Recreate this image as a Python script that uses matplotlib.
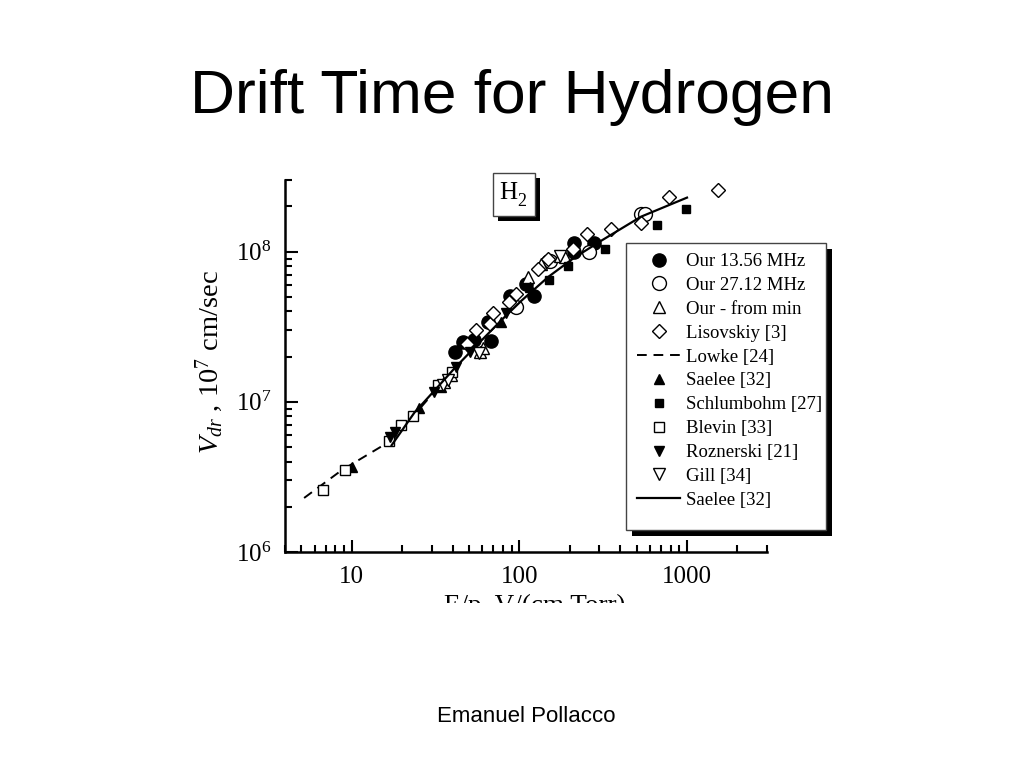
import matplotlib
matplotlib.use("Agg")
import matplotlib.pyplot as plt
from matplotlib.patches import Rectangle

plt.rcParams['font.family'] = ['Liberation Serif', 'DejaVu Serif']
plt.rcParams['mathtext.fontset'] = 'custom'
plt.rcParams['mathtext.rm'] = 'Liberation Serif'
plt.rcParams['mathtext.it'] = 'Liberation Serif:italic'

# E/p in V/(cm Torr), drift velocity in cm/sec
our1356_x = [41.2, 46.2, 54, 65.1, 67.5, 87.5, 110, 123, 148, 213, 213, 279]
our1356_y = [2.14e7, 2.50e7, 2.60e7, 3.39e7, 2.56e7, 5.1e7, 6.1e7, 5.1e7, 8.7e7, 1.15e8, 9.9e7, 1.15e8]

our2712_x = [96, 152, 261, 532, 560]
our2712_y = [4.27e7, 8.6e7, 9.9e7, 1.78e8, 1.78e8]

ourmin_x = [35.6, 39, 58, 61, 112, 135, 174, 186]
ourmin_y = [1.36e7, 1.5e7, 2.14e7, 2.27e7, 6.8e7, 8.3e7, 9.4e7, 9.2e7]

lisov_x = [48.9, 55.4, 66.6, 70, 87, 96, 130, 148, 209, 254, 350, 532, 785, 1535]
lisov_y = [2.44e7, 3.0e7, 3.31e7, 3.9e7, 4.65e7, 5.2e7, 7.67e7, 8.9e7, 1.04e8, 1.32e8, 1.41e8, 1.54e8, 2.32e8, 2.57e8]

lowke_x = [5.2, 8.7, 15.1, 22.8, 32, 40]
lowke_y = [2.29e6, 3.5e6, 5.06e6, 7.8e6, 1.21e7, 1.6e7]

saelee_pts_x = [10.1, 25.2, 34, 78, 115]
saelee_pts_y = [3.7e6, 9.1e6, 1.25e7, 3.4e7, 5.8e7]

schlum_x = [151, 194, 322, 659, 985]
schlum_y = [6.5e7, 8.0e7, 1.04e8, 1.5e8, 1.92e8]

blevin_x = [6.7, 9.1, 16.7, 19.8, 23.3, 32.8, 39.4]
blevin_y = [2.6e6, 3.5e6, 5.5e6, 7.0e6, 8.0e6, 1.29e7, 1.57e7]

rozn_x = [16.9, 18.1, 30.9, 42, 50.6, 83]
rozn_y = [5.8e6, 6.3e6, 1.16e7, 1.7e7, 2.14e7, 3.9e7]

gill_x = [35, 37.6, 57.4, 174]
gill_y = [1.3e7, 1.4e7, 2.1e7, 9.3e7]

saelee_x = [17.3, 23.7, 31.2, 41, 55.5, 78, 103, 149, 212, 307, 532, 1000]
saelee_y = [5.14e6, 8.5e6, 1.19e7, 1.67e7, 2.37e7, 3.49e7, 4.72e7, 6.8e7, 9.1e7, 1.18e8, 1.71e8, 2.29e8]

W, H = 1024, 768


def fx(px):
    return px / W


def fy(py):
    return 1 - py / H


fig = plt.figure(figsize=(10.24, 7.68), dpi=100)
ax = fig.add_axes([fx(285), fy(552), (767 - 285) / W, (552 - 180) / H])
ax.set_xscale('log')
ax.set_yscale('log')
ax.set_xlim(4, 3000)
ax.set_ylim(1e6, 3e8)

handles = []
pt = dict(ls='none', color='k', mec='k', mew=1.0)
handles += ax.plot(our1356_x, our1356_y, marker='o', ms=9.5, mfc='k', label='Our 13.56 MHz', **pt)
handles += ax.plot(our2712_x, our2712_y, marker='o', ms=10, mfc='white', label='Our 27.12 MHz', **pt)
handles += ax.plot(ourmin_x, ourmin_y, marker='^', ms=9, mfc='white', label='Our - from min', **pt)
handles += ax.plot(lisov_x, lisov_y, marker='D', ms=7, mfc='white', label='Lisovskiy [3]', **pt)
handles += ax.plot(lowke_x, lowke_y, ls=(0, (5, 3.5)), color='k', lw=1.4, label='Lowke [24]')
handles += ax.plot(saelee_pts_x, saelee_pts_y, marker='^', ms=7, mfc='k', label='Saelee [32]', **pt)
handles += ax.plot(schlum_x, schlum_y, marker='s', ms=5.5, mfc='k', label='Schlumbohm [27]', **pt)
handles += ax.plot(blevin_x, blevin_y, marker='s', ms=7, mfc='white', label='Blevin [33]', **pt)
handles += ax.plot(rozn_x, rozn_y, marker='v', ms=7, mfc='k', label='Roznerski [21]', **pt)
handles += ax.plot(gill_x, gill_y, marker='v', ms=8, mfc='white', label='Gill [34]', **pt)
handles += ax.plot(saelee_x, saelee_y, ls='-', color='k', lw=1.6, label='Saelee [32]')

for s in ['top', 'right']:
    ax.spines[s].set_visible(False)
for s in ['left', 'bottom']:
    ax.spines[s].set_linewidth(1.8)

ax.tick_params(which='both', direction='in', width=1.5, labelsize=18)
ax.tick_params(which='major', length=9, pad=10)
ax.tick_params(which='minor', length=5)
ax.set_xticks([10, 100, 1000], ['10', '100', '1000'])
ax.set_yticks([1e6, 1e7, 1e8], [r'$10^6$', r'$10^7$', r'$10^8$'])

fig.text(fx(209), fy(362), r'$V_{dr}$ , $10^7$ cm/sec', rotation=90,
         ha='center', va='center', fontsize=20.5)

# x label, cropped at the bottom edge of the pasted image
fig.text(fx(535), fy(594), 'E/p, V/(cm Torr)', ha='center', va='top', fontsize=19.5)
fig.add_artist(Rectangle((fx(300), fy(690)), (800 - 300) / W, (690 - 603) / H,
                         transform=fig.transFigure, facecolor='white', edgecolor='none', zorder=10))

# legend box with hard shadow
lw_, lh_ = (826 - 626) / W, (530 - 243) / H
fig.add_artist(Rectangle((fx(632), fy(536)), lw_, lh_, transform=fig.transFigure,
                         facecolor='black', edgecolor='none', zorder=4))
fig.add_artist(Rectangle((fx(626), fy(530)), lw_, lh_, transform=fig.transFigure,
                         facecolor='white', edgecolor='#444444', lw=1, zorder=5))
leg = fig.legend(handles, [h.get_label() for h in handles], loc='upper left',
                 bbox_to_anchor=(fx(637), fy(253)), bbox_transform=fig.transFigure,
                 frameon=False, borderpad=0, borderaxespad=0, handlelength=2.3,
                 handletextpad=0.3, labelspacing=0.36, fontsize=13.5, numpoints=1)
leg.set_zorder(6)

# H2 box
bw, bh = (535 - 493) / W, (216 - 173) / H
fig.add_artist(Rectangle((fx(498), fy(221)), bw, bh, transform=fig.transFigure,
                         facecolor='black', edgecolor='none', zorder=4))
fig.add_artist(Rectangle((fx(493), fy(216)), bw, bh, transform=fig.transFigure,
                         facecolor='white', edgecolor='#444444', lw=1, zorder=5))
fig.text(fx(508), fy(193), 'H', ha='center', va='center', fontsize=18, zorder=6)
fig.text(fx(522), fy(202), '2', ha='center', va='center', fontsize=13, zorder=6)

fig.text(fx(512), fy(98), 'Drift Time for Hydrogen', ha='center', va='center',
         fontsize=44.8, family='Liberation Sans')
fig.text(fx(526), fy(717), 'Emanuel Pollacco', ha='center', va='center',
         fontsize=16, family='Liberation Sans')

fig.savefig('out.png', dpi=100)
